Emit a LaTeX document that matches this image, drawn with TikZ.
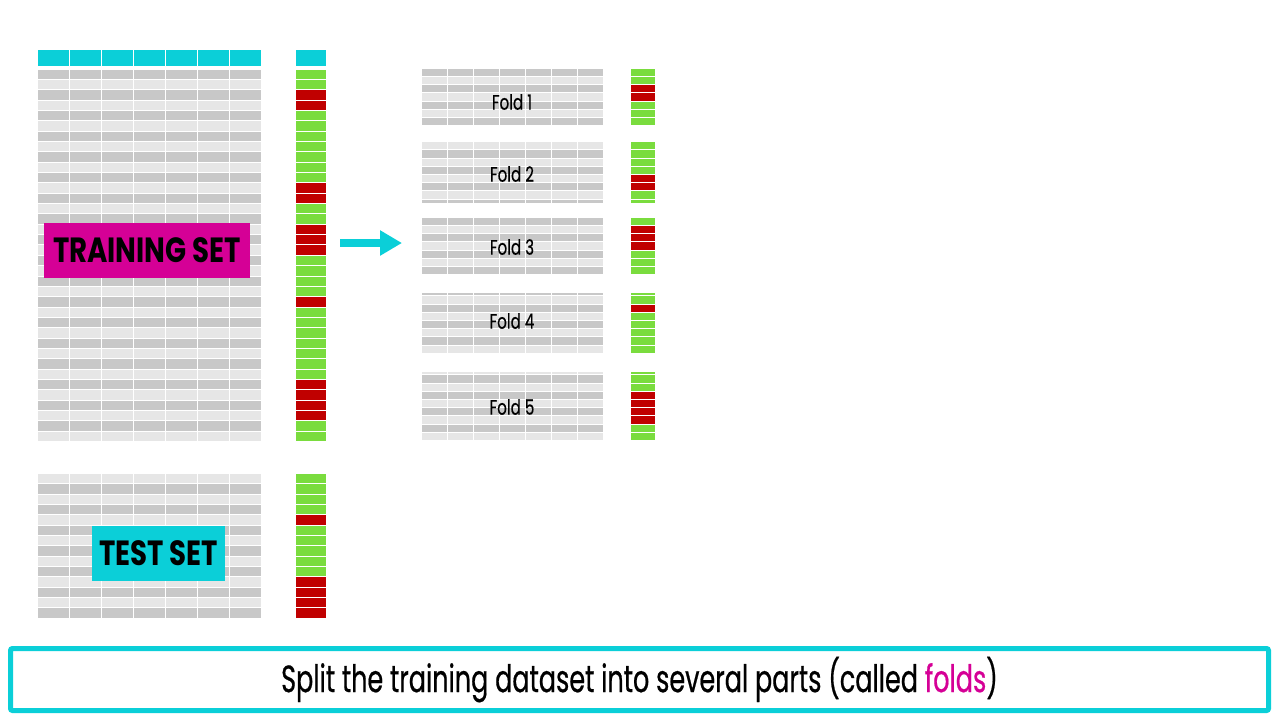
\documentclass[tikz,border=0pt]{standalone}
\usepackage{fontspec}
\newfontfamily\condfont[FakeStretch=0.72, FakeBold=0.4]{Poppins}
\newfontfamily\capfont[FakeStretch=0.67, FakeBold=0.5]{Poppins}
\newfontfamily\setfont[FakeStretch=0.79]{Poppins}
\usetikzlibrary{positioning,arrows.meta}

\definecolor{hdrcyan}{RGB}{11,207,216}
\definecolor{setmag}{RGB}{213,0,150}
\definecolor{celldark}{RGB}{200,200,200}
\definecolor{celllight}{RGB}{230,230,230}
\definecolor{lblg}{RGB}{122,220,62}
\definecolor{lblr}{RGB}{192,0,0}

\tikzset{font=\condfont,
	cell/.style={draw=white, line width=0.5pt},
	setbox/.style={inner sep=0pt, minimum height=27.5pt, font=\setfont\bfseries\fontsize{17.5}{17.5}\selectfont},
	foldlabel/.style={inner sep=1pt, font=\condfont\fontsize{10.5}{12}\selectfont},
	capbox/.style={draw=hdrcyan, line width=2.5pt, rounded corners=1pt, minimum width=629pt, minimum height=31pt, inner sep=0pt, font=\capfont\fontsize{19}{20}\selectfont}}

\newcommand{\trainlabels}{g,g,r,r,g,g,g,g,g,g,g,r,r,g,g,r,r,r,g,g,g,g,r,g,g,g,g,g,g,g,r,r,r,r,g,g}
\newcommand{\testlabels}{g,g,g,g,r,g,g,g,g,g,r,r,r,r}

% rows #5..#6 of a table: x0, top, column width, row height
\newcommand{\datarows}[6]{%
	\foreach \i in {#5,...,#6}{
		\ifodd\i \def\rowcol{celldark}\else \def\rowcol{celllight}\fi
		\foreach \j in {0,...,6}
			\path[cell, fill=\rowcol] ({#1+\j*#3}, {#2+(\i-#5)*#4}) rectangle ++(#3,#4);
	}}

% labels #6..#7 of list #1: x0, top, width, row height
\newcommand{\labelrows}[7]{%
	\foreach \c [count=\i] in #1 {
		\ifnum\i<#6 \else\ifnum\i>#7 \else
			\path[cell, fill=lbl\c] (#2, {#3+(\i-#6)*#5}) rectangle ++(#4,#5);
		\fi\fi
	}}

\begin{document}
\begin{tikzpicture}[x=0.5pt, y=-0.5pt]
	\useasboundingbox (0,0) rectangle (1280,720);

	% training set
	\foreach \j in {0,...,6}
		\path[cell, fill=hdrcyan] ({37+\j*32.14},49) rectangle ++(32.14,17);
	\path[cell, fill=hdrcyan] (295,49) rectangle ++(31,17);
	\datarows{37}{69}{32.14}{10.35}{1}{36}
	\labelrows{\trainlabels}{295}{69}{31}{10.35}{1}{36}
	\node[setbox, fill=setmag, minimum width=103pt] (trainset) at (147,250.5) {TRAINING SET};

	% test set
	\datarows{37}{473.3}{32.14}{10.35}{2}{15}
	\labelrows{\testlabels}{295}{473.3}{31}{10.35}{1}{14}
	\node[setbox, fill=hdrcyan, minimum width=66.5pt] (testset) at (158.5,553.2) {TEST SET};

	% folds
	\datarows{421}{68.3}{26}{8.2}{1}{7}
	\labelrows{\trainlabels}{630}{68.3}{25.5}{8.2}{1}{7}
	\begin{scope}
		\clip (415,141.7) rectangle (660,202.5);
		\datarows{421}{141.7}{26}{8.2}{8}{15}
		\labelrows{\trainlabels}{630}{141.7}{25.5}{8.2}{8}{15}
	\end{scope}
	\datarows{421}{217.3}{26}{8.2}{15}{21}
	\labelrows{\trainlabels}{630}{217.3}{25.5}{8.2}{15}{21}
	\begin{scope}
		\clip (415,293.3) rectangle (660,353);
		\datarows{421}{287.6}{26}{8.2}{21}{28}
		\labelrows{\trainlabels}{630}{287.6}{25.5}{8.2}{21}{28}
	\end{scope}
	\begin{scope}
		\clip (415,372.3) rectangle (660,442);
		\datarows{421}{366.6}{26}{8.2}{28}{36}
		\labelrows{\trainlabels}{630}{366.6}{25.5}{8.2}{28}{36}
	\end{scope}
	\foreach \k/\y in {1/102, 2/174, 3/247, 4/321, 5/407}
		\node[foldlabel] (fold\k) at (512,\y) {Fold \k};

	\coordinate (splitfrom) at (340,243);
	\coordinate (splitto) at (402,243);
	\draw[hdrcyan, line width=3.85pt, -{Triangle[length=11pt, width=12pt]}] (splitfrom) -- (splitto);

	\node[capbox] (caption) at (639.5,679.5) {Split the training dataset into several parts (called \textcolor{setmag}{folds})};
\end{tikzpicture}
\end{document}
